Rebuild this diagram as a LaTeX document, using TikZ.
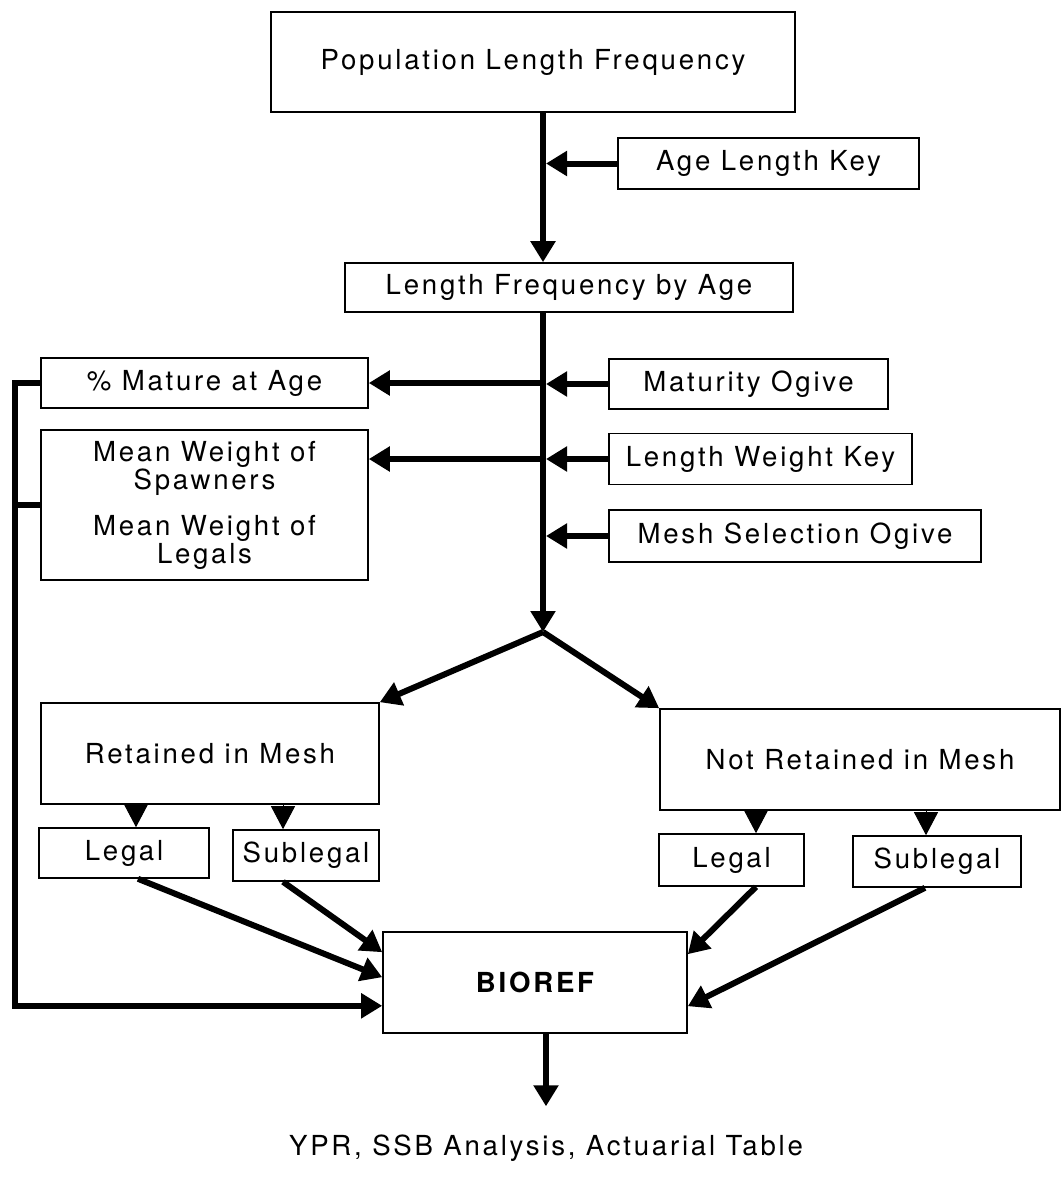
\documentclass[tikz,border=0pt]{standalone}
\usepackage{fontspec}
\setmainfont{TeX Gyre Heros}
\newfontfamily\flowfont{TeX Gyre Heros}[LetterSpace=10]
\usetikzlibrary{arrows.meta,calc}

\tikzset{
  lab/.style={inner sep=0pt, align=center, font=\flowfont\fontsize{13.8}{14}\selectfont},
  box/.style={lab, draw, line width=0.8pt},
  flow/.style={line width=3pt, -{Triangle[width=12pt,length=10.5pt]}},
  tri/.style={line width=0.5pt, -{Triangle[width=12pt,length=11.5pt]}}
}

\begin{document}
\begin{tikzpicture}[x=0.5pt,y=-0.5pt]

\useasboundingbox (0,0) rectangle (1063,1184);

% Boxes along the trunk
\node[box, minimum width=262pt, minimum height=50pt] (pop) at (533,62) {Population Length Frequency};
\node[box, minimum width=150.5pt, minimum height=25.5pt] (agekey) at (768.5,163.5) {Age Length Key};
\node[box, minimum width=224pt, minimum height=24.5pt] (lfa) at (569,287.5) {Length Frequency by Age};

% Keys on the right
\node[box, minimum width=139.5pt, minimum height=25pt] (matog) at (748.5,384) {Maturity Ogive};
\node[box, minimum width=151.5pt, minimum height=25.5pt] (lwkey) at (760.5,459) {Length Weight Key};
\node[box, minimum width=186pt, minimum height=26pt] (meshog) at (795,536) {Mesh Selection Ogive};

% Results on the left
\node[box, minimum width=163.5pt, minimum height=25pt] (mature) at (204.5,383) {\% Mature at Age};
\node[box, minimum width=163.5pt, minimum height=75pt] (meanw) at (204.5,505)
  {Mean Weight of\\Spawners\\[9pt]Mean Weight of\\Legals};

% Mesh split
\node[box, minimum width=169pt, minimum height=50.5pt] (retained) at (210,753.5) {Retained in Mesh};
\node[box, minimum width=200pt, minimum height=50.5pt] (notret) at (860,759.5) {Not Retained in Mesh};
\node[box, minimum width=85pt, minimum height=25pt] (legalA) at (124,853) {Legal};
\node[box, minimum width=73pt, minimum height=25.5pt] (sublA) at (306,855.5) {Sublegal};
\node[box, minimum width=72.5pt, minimum height=26pt] (legalB) at (731.5,860) {Legal};
\node[box, minimum width=84pt, minimum height=25.5pt] (sublB) at (937,861.5) {Sublegal};

% Model and output
\node[box, minimum width=152pt, minimum height=50.5pt] (bioref) at (535,982.5) {\bfseries BIOREF};
\node[lab] (out) at (546,1148) {YPR, SSB Analysis, Actuarial Table};

% Trunk
\coordinate (fork) at (543,632);
\draw[flow] (fork |- pop.south) -- (fork |- lfa.north);
\draw[flow] (fork |- lfa.south) -- (fork);

% Keys into the trunk
\foreach \src in {agekey, matog, lwkey, meshog}
  \draw[flow, shorten >=1.5pt] (\src.west) -- (fork |- \src.west);

% Out to the left
\draw[flow] (fork |- mature.east) -- (mature.east);
\draw[flow] (fork |- lwkey.west) -- (meanw.east |- lwkey.west);

% Split
\draw[flow] (fork) -- (retained.north east);
\draw[flow] (fork) -- (notret.north west);

% Small heads
\foreach \bx/\dx/\up in {legalA/12/retained, sublA/-23/retained, legalB/24.5/notret, sublB/-11/notret} {
  \path (\bx.north) ++(\dx,0) coordinate (h);
  \draw[tri] (h |- \up.south) -- (h);
}

% Into BIOREF
\draw[flow] ($(legalA.south)+(14,0)$) -- ($(bioref.north west)+(0,46)$);
\draw[flow] ($(sublA.south)+(-23,0)$) -- ($(bioref.north west)+(0,21)$);
\draw[flow] ($(legalB.south)+(24.5,0)$) -- ($(bioref.north east)+(0,23)$);
\draw[flow] ($(sublB.south)+(-12,0)$) -- ($(bioref.north east)+(0,75)$);

% Bus on the left
\draw[flow] (mature.west) -- ++(-25,0) coordinate (bus) |- ($(bioref.south west)+(0,-28)$);
\draw[line width=3pt] (meanw.west) -- (meanw.west -| bus);

% Output
\draw[flow, shorten >=14pt] ($(bioref.south)+(11,0)$) -- (out.north);

\end{tikzpicture}
\end{document}
